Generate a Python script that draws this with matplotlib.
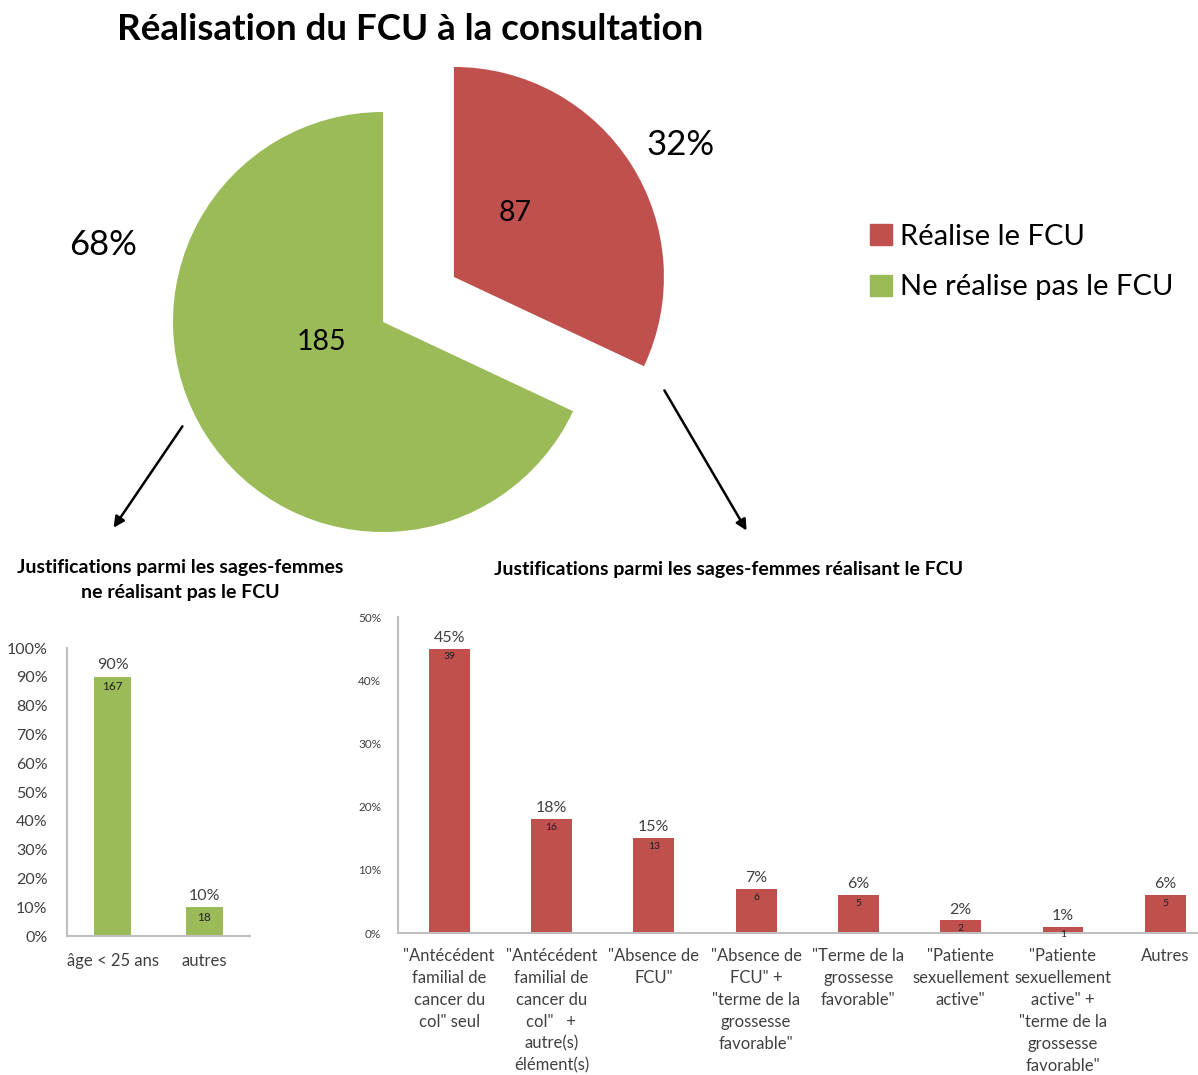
import matplotlib
matplotlib.use("Agg")
import matplotlib.pyplot as plt
from matplotlib.patches import Patch
from matplotlib.ticker import FuncFormatter

plt.rcParams['font.family'] = ['Lato', 'DejaVu Sans']

# --- data ---
pie_labels = ["Réalise le FCU", "Ne réalise pas le FCU"]
pie_counts = [87, 185]
pie_pcts = ["32%", "68%"]

left_cats = ["âge < 25 ans", "autres"]
left_pct = [0.90, 0.10]
left_counts = [167, 18]

right_cats = [
    '"Antécédent\nfamilial de\ncancer du\ncol" seul',
    '"Antécédent\nfamilial de\ncancer du\ncol"   +\nautre(s)\nélément(s)',
    '"Absence de\nFCU"',
    '"Absence de\nFCU" +\n"terme de la\ngrossesse\nfavorable"',
    '"Terme de la\ngrossesse\nfavorable"',
    '"Patiente\nsexuellement\nactive"',
    '"Patiente\nsexuellement\nactive" +\n"terme de la\ngrossesse\nfavorable"',
    'Autres',
]
right_pct = [0.45, 0.18, 0.15, 0.07, 0.06, 0.02, 0.01, 0.06]
right_counts = [39, 16, 13, 6, 5, 2, 1, 5]

RED = "#C0504D"
GREEN = "#9BBB59"
AXC = "#BFBFBF"
TXT = "#404040"

W, H = 1198, 1075
fig = plt.figure(figsize=(W / 100, H / 100), dpi=100)


def rect(l, t, r, b):
    return [l / W, 1 - b / H, (r - l) / W, (b - t) / H]


def fpos(x, y):
    return (x / W, 1 - y / H)


fig.text(*fpos(410, 30), "Réalisation du FCU à la consultation", ha="center", va="center",
         fontsize=26.5, fontweight="bold")

# --- pie ---
R = 210.0
pl, pt, pr, pb = 0, 45, 820, 560
cx, cy = 383, 322
axp = fig.add_axes(rect(pl, pt, pr, pb))
wedges, _ = axp.pie(pie_counts, colors=[RED, GREEN], startangle=90, counterclock=False,
                    explode=[0.4, 0], radius=1)
axp.set_aspect("auto")
axp.set_xlim(-(cx - pl) / R, (pr - cx) / R)
axp.set_ylim(-(pb - cy) / R, (cy - pt) / R)
axp.axis("off")


def dpos(x, y):
    return ((x - cx) / R, (cy - y) / R)


axp.text(*dpos(515, 213), str(pie_counts[0]), ha="center", va="center", fontsize=20.5)
axp.text(*dpos(322, 342), str(pie_counts[1]), ha="center", va="center", fontsize=20.5)
axp.text(*dpos(681, 145), pie_pcts[0], ha="center", va="center", fontsize=25)
axp.text(*dpos(103, 245), pie_pcts[1], ha="center", va="center", fontsize=25)

fig.legend(handles=[Patch(color=RED), Patch(color=GREEN)], labels=pie_labels,
           loc="upper left", bbox_to_anchor=fpos(858, 212), frameon=False,
           fontsize=21, handlelength=0.75, handleheight=0.75, handletextpad=0.3,
           labelspacing=0.85, borderaxespad=0)

# arrows
for (x0, y0), (x1, y1) in [((184, 424), (112, 530)), ((663, 388), (748, 533))]:
    fig.add_artist(matplotlib.patches.FancyArrowPatch(
        fpos(x0, y0), fpos(x1, y1), transform=fig.transFigure,
        arrowstyle="-|>", mutation_scale=16, lw=1.8, color="black"))

# --- left bars ---
axl = fig.add_axes(rect(67, 648, 250, 936))
xl = range(len(left_cats))
axl.bar(xl, left_pct, width=0.4, color=GREEN)
axl.set_xlim(-0.5, 1.5)
axl.set_ylim(0, 1.0)
axl.set_yticks([i / 10 for i in range(11)])
axl.yaxis.set_major_formatter(FuncFormatter(lambda v, p: f"{v:.0%}"))
axl.set_xticks(list(xl))
axl.set_xticklabels(left_cats, fontsize=12, color=TXT)
axl.tick_params(axis="y", labelsize=11.5, labelcolor=TXT, length=0, pad=14)
axl.tick_params(axis="x", length=0, pad=12)
for s in ["top", "right"]:
    axl.spines[s].set_visible(False)
for s in ["left", "bottom"]:
    axl.spines[s].set_color(AXC)
    axl.spines[s].set_linewidth(1.5)
for x, v, c in zip(xl, left_pct, left_counts):
    axl.text(x, v + 0.015, f"{v:.0%}", ha="center", va="bottom", fontsize=11.5, color=TXT)
    axl.text(x, v - 0.015, str(c), ha="center", va="top", fontsize=8.5, color="#202020")
fig.text(*fpos(180, 580), "Justifications parmi les sages-femmes\nne réalisant pas le FCU",
         ha="center", va="center", fontsize=14, fontweight="bold", linespacing=1.55)

# --- right bars ---
axr = fig.add_axes(rect(398, 617, 1198, 933))
xr = range(len(right_cats))
axr.bar(xr, right_pct, width=0.4, color=RED)
axr.set_xlim(-0.5, 7.32)
axr.set_ylim(0, 0.5)
axr.set_yticks([i / 10 for i in range(6)])
axr.yaxis.set_major_formatter(FuncFormatter(lambda v, p: f"{v:.0%}"))
axr.set_xticks(list(xr))
axr.set_xticklabels(right_cats, fontsize=12, color=TXT, linespacing=1.45, va="top")
axr.tick_params(axis="y", labelsize=8.5, labelcolor=TXT, length=0, pad=12)
axr.tick_params(axis="x", length=0, pad=11)
for s in ["top", "right"]:
    axr.spines[s].set_visible(False)
for s in ["left", "bottom"]:
    axr.spines[s].set_color(AXC)
    axr.spines[s].set_linewidth(1.5)
for x, v, c in zip(xr, right_pct, right_counts):
    axr.text(x, v + 0.006, f"{v:.0%}", ha="center", va="bottom", fontsize=11.5, color=TXT)
    axr.text(x, v - 0.006, str(c), ha="center", va="top", fontsize=7.5, color="#202020")
fig.text(*fpos(729, 569), "Justifications parmi les sages-femmes réalisant le FCU",
         ha="center", va="center", fontsize=14, fontweight="bold")

fig.savefig("out.png", dpi=100)
